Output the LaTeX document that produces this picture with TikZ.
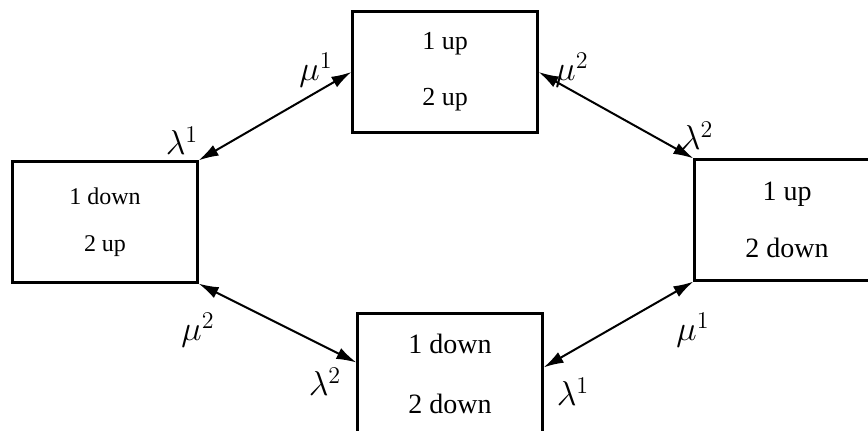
\documentclass[tikz,border=0pt]{standalone}
\usepackage{fontspec}
\setmainfont{Liberation Serif}
\usetikzlibrary{arrows.meta}

\begin{document}
\begin{tikzpicture}[x=0.5pt, y=-0.5pt,
  state/.style={draw, line width=1.1pt, minimum width=92.5pt, minimum height=60.5pt,
    align=center, font=\fontsize{13}{28}\selectfont},
  trans/.style={line width=1pt, {Latex[length=10pt,width=6pt]}-{Latex[length=10pt,width=6pt]}},
  rate/.style={font=\fontsize{17}{19}\selectfont, inner sep=0pt}]

\useasboundingbox (0,0) rectangle (868,431);

% =========================
% STATES
% =========================
\node[state] (upup) at (445,72) {1 up\\2 up};
\node[state, font=\fontsize{12}{23.5}\selectfont] (downup) at (105,222) {1 down\\2 up};
\node[state, font=\fontsize{14}{28.5}\selectfont] (updown) at (787,220) {1 up\\2 down};
\node[state, font=\fontsize{14}{30}\selectfont] (downdown) at (450,374) {1 down\\2 down};

% =========================
% TRANSITIONS
% =========================
\draw[trans] (downup.north east) -- (upup.west);
\draw[trans] (upup.east) -- (updown.north west);
\draw[trans] (downup.south east) -- (downdown.173);
\draw[trans] (updown.south west) -- (downdown.4);

% Rates
\node[rate] (lamA) at (182,141) {$\lambda^1$};
\node[rate] (muA) at (316,70) {$\mu^1$};
\node[rate] (muB) at (572,70) {$\mu^2$};
\node[rate] (lamB) at (697,136) {$\lambda^2$};
\node[rate] (muC) at (198,330) {$\mu^2$};
\node[rate] (lamC) at (325,382) {$\lambda^2$};
\node[rate] (muD) at (693,330) {$\mu^1$};
\node[rate] (lamD) at (573,392) {$\lambda^1$};

\end{tikzpicture}
\end{document}
